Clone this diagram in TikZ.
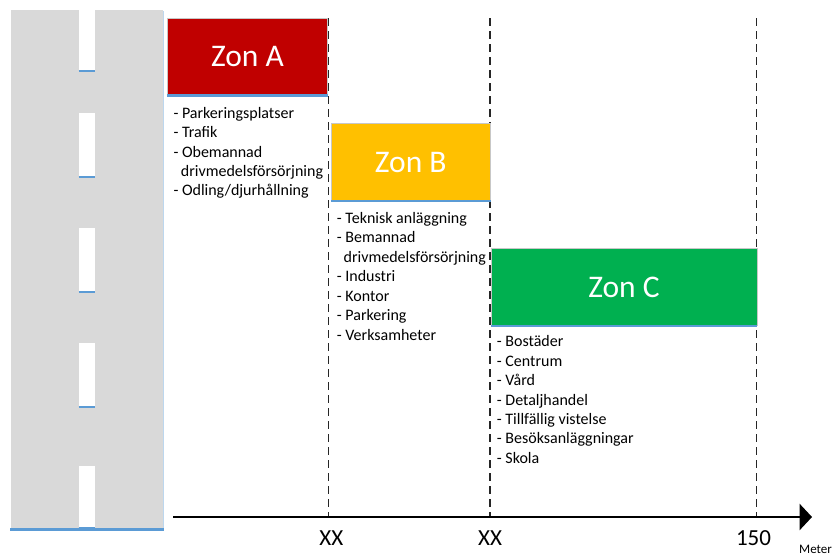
\documentclass[tikz,border=0pt]{standalone}
\usepackage{fontspec}
\setmainfont{Carlito}
\usetikzlibrary{arrows.meta}
\definecolor{roadgrey}{HTML}{D9D9D9}
\definecolor{roadblue}{HTML}{5B9BD5}
\definecolor{edgeblue}{HTML}{BDD7EE}
\definecolor{zonered}{HTML}{C00000}
\definecolor{zoneyellow}{HTML}{FFC000}
\definecolor{zonegreen}{HTML}{00B050}
\begin{document}
\begin{tikzpicture}[x=1pt,y=-1pt,
  zonebox/.style={draw=black!22, line width=0.8pt, text=white, inner sep=0pt,
    anchor=north west, font=\fontsize{31.5}{36}\selectfont},
  zoneline/.style={draw=roadblue, line width=2.6pt},
  dashline/.style={draw=roadblue, line width=2.2pt},
  guide/.style={draw=black!85, line width=1.2pt, dash pattern=on 8pt off 5pt},
  axisline/.style={draw=black, line width=1.3pt, -{Triangle[length=12.5pt,width=26.5pt]}},
  item/.style={anchor=base west, inner sep=0pt, font=\fontsize{16}{19}\selectfont},
  axlabel/.style={anchor=base, inner sep=0pt, font=\fontsize{23}{27}\selectfont},
  unitlabel/.style={anchor=base west, inner sep=0pt, font=\fontsize{13}{15}\selectfont}
]
\useasboundingbox (0,0) rectangle (840,555);
% road
\fill[roadgrey] (11,10) rectangle (162.5,530);
\draw[edgeblue, line width=0.8pt] (163,11) -- (163,530);
\foreach \ya/\yb in {10/70.7, 112.7/176.7, 228/291.7, 343/406.7, 466/528} {
  \fill[white] (78.7,\ya) rectangle (95,\yb);
  \draw[dashline] (78.7,\yb) -- (95,\yb);
}
\draw[roadblue, line width=2.4pt] (10,529.5) -- (163.5,529.5);
% guide lines
\coordinate (g1t) at (328.7,18);
\coordinate (g1b) at (328.7,517);
\coordinate (g2t) at (490,18);
\coordinate (g2b) at (490,517);
\coordinate (g3t) at (756.7,18);
\coordinate (g3b) at (756.7,517);
\draw[guide] (g1t) -- (g1b);
\draw[guide] (g2t) -- (g2b);
\draw[guide] (g3t) -- (g3b);
% zones
\node[zonebox, fill=zonered, minimum width=159.5pt, minimum height=76.5pt] (zA) at (167.3,18.3) {Zon A};
\draw[zoneline] (zA.south west) -- (zA.south east);
\node[zonebox, fill=zoneyellow, minimum width=159.3pt, minimum height=76.7pt] (zB) at (330.7,123.3) {Zon B};
\draw[zoneline] (zB.south west) -- (zB.south east);
\node[zonebox, fill=zonegreen, minimum width=265.8pt, minimum height=77pt] (zC) at (490.7,248.3) {Zon C};
\draw[zoneline] (zC.south west) -- (zC.south east);
% lists
\node[item] (a1) at (173.3,118.3) {- Parkeringsplatser};
\node[item] (a2) at (173.3,137.7) {- Trafik};
\node[item] (a3) at (173.3,157.0) {- Obemannad};
\node[item] (a4) at (180.7,176.4) {drivmedelsförsörjning};
\node[item] (a5) at (173.3,195.7) {- Odling/djurhållning};
\node[item] (b1) at (336.7,223.3) {- Teknisk anläggning};
\node[item] (b2) at (336.7,242.8) {- Bemannad};
\node[item] (b3) at (343.5,262.3) {drivmedelsförsörjning};
\node[item] (b4) at (336.7,281.8) {- Industri};
\node[item] (b5) at (336.7,301.3) {- Kontor};
\node[item] (b6) at (336.7,320.8) {- Parkering};
\node[item] (b7) at (336.7,340.3) {- Verksamheter};
\node[item] (c1) at (496.7,346.7) {- Bostäder};
\node[item] (c2) at (496.7,366.1) {- Centrum};
\node[item] (c3) at (496.7,385.6) {- Vård};
\node[item] (c4) at (496.7,405.0) {- Detaljhandel};
\node[item] (c5) at (496.7,424.5) {- Tillfällig vistelse};
\node[item] (c6) at (496.7,443.9) {- Besöksanläggningar};
\node[item] (c7) at (496.7,463.4) {- Skola};
% axis
\coordinate (ax0) at (173,517);
\coordinate (ax1) at (812,517);
\draw[axisline] (ax0) -- (ax1);
\node[axlabel] (x1) at (331.4,545) {XX};
\node[axlabel] (x2) at (490,545) {XX};
\node[axlabel] (x3) at (753.5,545) {150};
\node[unitlabel] (unit) at (799,553) {Meter};
\end{tikzpicture}
\end{document}
